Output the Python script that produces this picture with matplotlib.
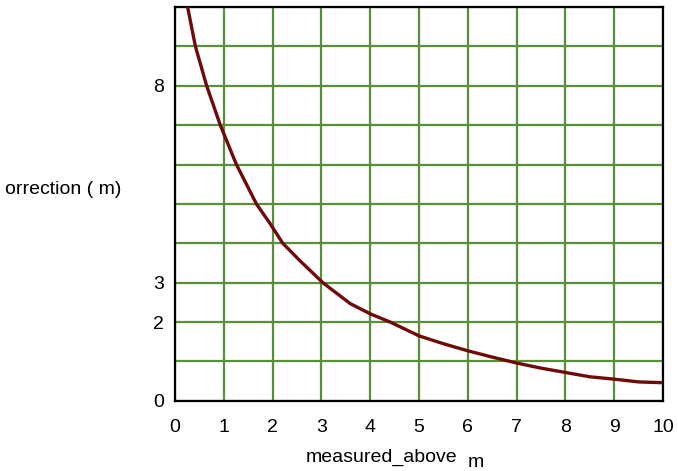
import numpy as np
import matplotlib.pyplot as plt

plt.rcParams['font.family'] = ['Liberation Sans', 'DejaVu Sans']

# curve (relative to the grid lines)
measured_above = [0.26, 0.42, 0.65, 0.93, 1.26, 1.67, 1.95, 2.21, 2.56, 3.03, 3.59, 4.0, 4.41,
                  5.0, 5.5, 6.0, 6.5, 7.0, 7.5, 8.0, 8.5, 9.0, 9.5, 10.0]
correction = [10.0, 9.0, 8.0, 7.0, 6.0, 5.0, 4.5, 4.0, 3.56, 3.0, 2.47, 2.21, 2.0,
              1.65, 1.45, 1.27, 1.11, 0.96, 0.83, 0.72, 0.61, 0.55, 0.48, 0.46]

ytick_labels = ['0', '', '2', '3', '', '', '', '', '8', '', '']
xtick_labels = [str(i) for i in range(11)]

fig = plt.figure(figsize=(6.78, 4.71), dpi=100)
ax = fig.add_axes([0.258, 0.149, 0.72, 0.836])

ax.plot(measured_above, correction, color='#6e0a0a', linewidth=2.4, zorder=3)

ax.set_xlim(0, 10)
ax.set_ylim(0, 10)
ax.set_xticks(range(11))
ax.set_xticklabels(xtick_labels, fontsize=14)
ax.set_yticks(range(11))
ax.set_yticklabels(ytick_labels, fontsize=14)
ax.tick_params(axis='x', length=0, pad=13)
ax.tick_params(axis='y', length=0, pad=8)
ax.grid(True, color='#5a8f3a', linewidth=1.6)
ax.set_axisbelow(True)
for s in ax.spines.values():
    s.set_linewidth(1.6)
    s.set_color('black')

fig.text(5 / 678, 1 - 190 / 471, 'orrection ( m)', fontsize=14, ha='left', va='center')
fig.text(306 / 678, 1 - 462 / 471, 'measured_above', fontsize=14, ha='left', va='baseline')
fig.text(468 / 678, 1 - 467 / 471, 'm', fontsize=14, ha='left', va='baseline')

fig.savefig('out.png', dpi=100)
